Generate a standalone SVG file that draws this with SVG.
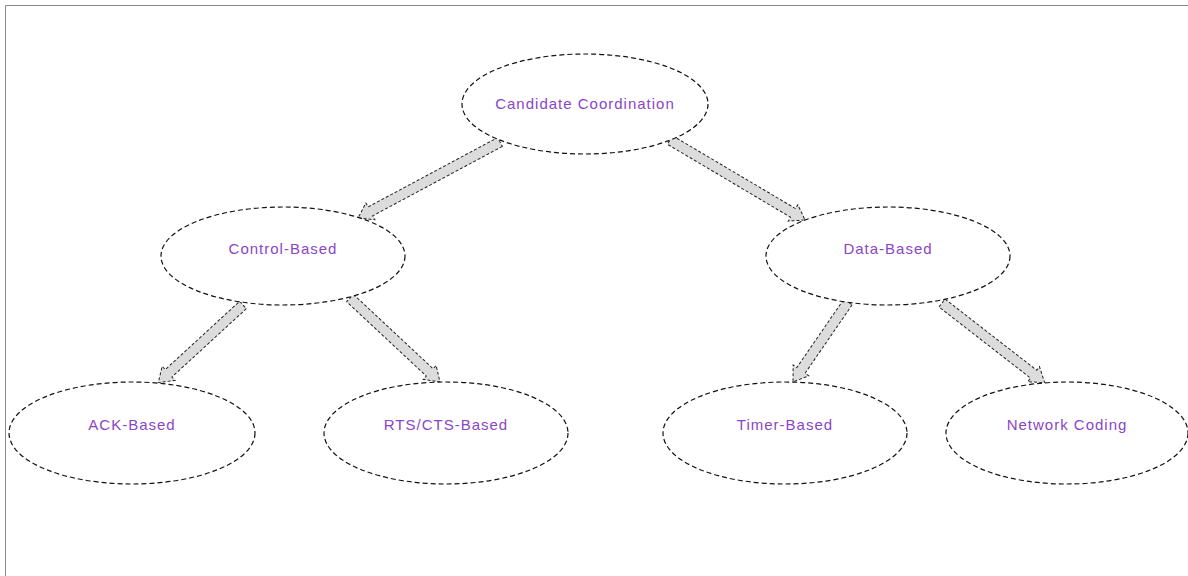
<svg xmlns="http://www.w3.org/2000/svg" width="1188" height="576" viewBox="0 0 1188 576">
<style>
.node ellipse{fill:#fff;stroke:#111;stroke-width:1.2;stroke-dasharray:5 3}
.node text{font-family:"Liberation Sans",Arial,sans-serif;font-size:15px;letter-spacing:1px;fill:#8b45c8;text-anchor:middle;dominant-baseline:central}
.arrow polygon{fill:#dcdcdc;stroke:#222;stroke-width:1;stroke-dasharray:3 2;stroke-linejoin:miter}
</style>
<rect x="0" y="0" width="1188" height="576" fill="#fff"/>
<path d="M5.5,576 V5.5 H1188" fill="none" stroke="#888" stroke-width="1"/>
<g id="connectors" class="arrow">
<g transform="translate(500,142) rotate(151.84)"><polygon points="0,-5 147,-5 147,-9.5 161,0 147,9.5 147,5 0,5"/></g>
<g transform="translate(670,140) rotate(30.65)"><polygon points="0,-5 143,-5 143,-9.5 157,0 143,9.5 143,5 0,5"/></g>
<g transform="translate(243,305) rotate(137.46)"><polygon points="0,-5 101,-5 101,-9.5 115,0 101,9.5 101,5 0,5"/></g>
<g transform="translate(350,298) rotate(43.03)"><polygon points="0,-5 109,-5 109,-9.5 123,0 109,9.5 109,5 0,5"/></g>
<g transform="translate(848,302) rotate(124.51)"><polygon points="0,-5 83,-5 83,-9.5 97,0 83,9.5 83,5 0,5"/></g>
<g transform="translate(942,303) rotate(37.83)"><polygon points="0,-5 116,-5 116,-9.5 130,0 116,9.5 116,5 0,5"/></g>
</g>
<g id="n-candidate" class="node"><ellipse cx="585" cy="104" rx="123" ry="50"/><text x="585" y="103">Candidate Coordination</text></g>
<g id="n-control" class="node"><ellipse cx="283" cy="256" rx="122" ry="49"/><text x="283" y="248">Control-Based</text></g>
<g id="n-data" class="node"><ellipse cx="888" cy="256" rx="122" ry="49"/><text x="888" y="248">Data-Based</text></g>
<g id="n-ack" class="node"><ellipse cx="132" cy="433" rx="123" ry="51"/><text x="132" y="424">ACK-Based</text></g>
<g id="n-rts" class="node"><ellipse cx="446" cy="433" rx="122" ry="51"/><text x="446" y="424">RTS/CTS-Based</text></g>
<g id="n-timer" class="node"><ellipse cx="785" cy="433" rx="122" ry="51"/><text x="785" y="424">Timer-Based</text></g>
<g id="n-network" class="node"><ellipse cx="1067" cy="433" rx="121" ry="51"/><text x="1067" y="424">Network Coding</text></g>
</svg>
